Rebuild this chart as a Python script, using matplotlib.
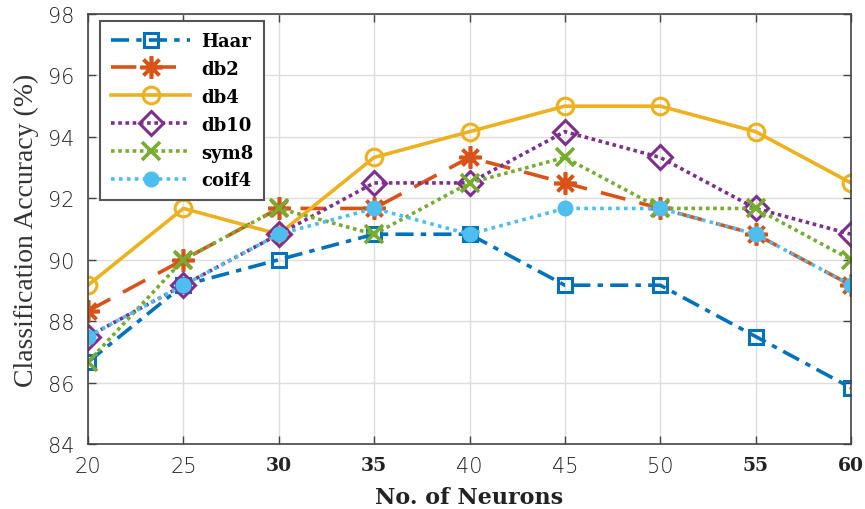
import matplotlib
matplotlib.use("Agg")
import matplotlib.pyplot as plt

neurons = [20, 25, 30, 35, 40, 45, 50, 55, 60]
haar  = [86.67, 89.17, 90.00, 90.83, 90.83, 89.17, 89.17, 87.50, 85.83]
db2   = [88.33, 90.00, 91.67, 91.67, 93.33, 92.50, 91.67, 90.83, 89.17]
db4   = [89.17, 91.67, 90.83, 93.33, 94.17, 95.00, 95.00, 94.17, 92.50]
db10  = [87.50, 89.17, 90.83, 92.50, 92.50, 94.17, 93.33, 91.67, 90.83]
sym8  = [86.67, 90.00, 91.67, 90.83, 92.50, 93.33, 91.67, 91.67, 90.00]
coif4 = [87.50, 89.17, 90.83, 91.67, 90.83, 91.67, 91.67, 90.83, 89.17]
names = ["Haar", "db2", "db4", "db10", "sym8", "coif4"]
x_ticks = [20, 25, 30, 35, 40, 45, 50, 55, 60]
bold_x = [30, 35, 55, 60]
y_ticks = [84, 86, 88, 90, 92, 94, 96, 98]

plt.rcParams['font.family'] = ['Liberation Serif', 'DejaVu Serif']

fig = plt.figure(figsize=(8.65, 5.10), dpi=100)
ax = fig.add_axes([88/865, 1-445/510, (851-88)/865, (445-15)/510])

styles = [
    dict(color='#0072BD', ls=(0, (5, 2, 1.5, 2)), marker='s', mfc='none', ms=10, mew=2.2),
    dict(color='#D95319', ls=(0, (7, 4)), marker=(8, 2, 0), ms=16, mew=2.6),
    dict(color='#EDB120', ls='-', marker='o', mfc='none', ms=12, mew=2.2),
    dict(color='#7E2F8E', ls=(0, (1, 1)), marker='D', mfc='none', ms=12, mew=2.2),
    dict(color='#77AC30', ls=(0, (1, 1)), marker='x', ms=13, mew=2.6),
    dict(color='#4DBEEE', ls=(0, (1, 1.2)), marker='o', ms=10, mew=1.5),
]
series = [haar, db2, db4, db10, sym8, coif4]
for name, vals, st in zip(names, series, styles):
    ax.plot(neurons, vals, label=name, lw=2.6, **st)

ax.set_xlim(20, 60)
ax.set_ylim(84, 98)
ax.set_xticks(x_ticks)
ax.set_yticks(y_ticks)
ax.set_xticklabels([str(t) for t in x_ticks])
for lab, t in zip(ax.get_xticklabels(), x_ticks):
    lab.set_color('#222222')
    if t in bold_x:
        lab.set_family(['DejaVu Serif'])
        lab.set_fontweight('bold')
        lab.set_fontsize(13.5)
    else:
        lab.set_family(['DejaVu Sans'])
        lab.set_fontweight('light')
        lab.set_fontsize(15)
for lab in ax.get_yticklabels():
    lab.set_family(['DejaVu Sans'])
    lab.set_fontweight('light')
    lab.set_fontsize(15)
    lab.set_color('#222222')

ax.grid(True, color='#dddddd', lw=1)
ax.set_axisbelow(True)
ax.tick_params(direction='in', length=6, top=True, right=True, color='#444444', width=1)
ax.tick_params(axis='x', pad=9)
ax.tick_params(axis='y', pad=10)
for sp in ax.spines.values():
    sp.set_color('#444444')
    sp.set_linewidth(1.2)

ax.set_xlabel("No. of Neurons", fontsize=16, fontweight='bold', family=['DejaVu Serif'],
              labelpad=7, color='#222222')
ax.set_ylabel("Classification Accuracy (%)", fontsize=20, labelpad=6, color='#333333')

leg = ax.legend(loc='upper left', bbox_to_anchor=(12/763, 1-7/430), borderaxespad=0,
                fancybox=False,
                prop={'size': 13, 'weight': 'bold', 'family': 'DejaVu Serif'},
                handlelength=4.4, handletextpad=0.6,
                borderpad=0.6, labelspacing=0.55, framealpha=1)
leg.get_frame().set_edgecolor('#555555')
leg.get_frame().set_linewidth(1.5)

fig.savefig("out.png", dpi=100)
